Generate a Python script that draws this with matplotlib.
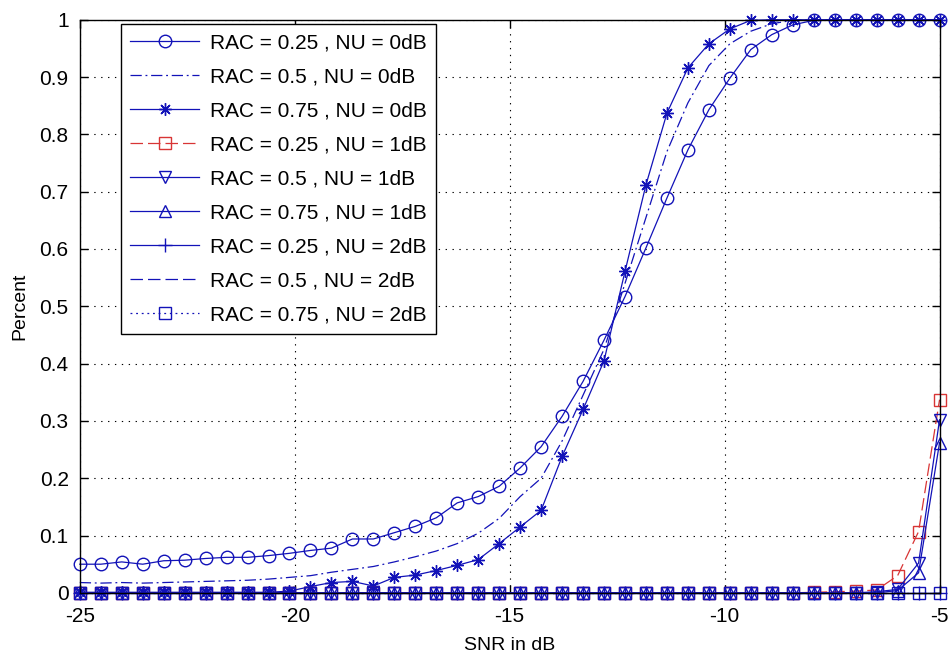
import numpy as np
import matplotlib
matplotlib.use("Agg")
import matplotlib.pyplot as plt
from matplotlib.ticker import FixedLocator, FuncFormatter

# detection rate vs SNR, 42 sweep points from -25 to -5 dB
snr_db = np.linspace(-25, -5, 42)

rac25_nu0 = [0.050, 0.050, 0.054, 0.050, 0.056, 0.057, 0.060, 0.062, 0.062, 0.065,
             0.069, 0.074, 0.078, 0.094, 0.094, 0.105, 0.116, 0.131, 0.157, 0.168,
             0.186, 0.218, 0.255, 0.308, 0.369, 0.441, 0.517, 0.602, 0.689, 0.773,
             0.843, 0.898, 0.948, 0.974, 0.991, 0.999, 1, 1, 1, 1,
             1, 1]
rac50_nu0 = [0.018, 0.017, 0.018, 0.017, 0.018, 0.019, 0.020, 0.021, 0.022, 0.024,
             0.027, 0.030, 0.036, 0.041, 0.046, 0.054, 0.063, 0.073, 0.086, 0.104,
             0.130, 0.168, 0.200, 0.265, 0.345, 0.425, 0.540, 0.655, 0.770, 0.855,
             0.920, 0.958, 0.980, 0.993, 0.999, 1, 1, 1, 1, 1,
             1, 1]
rac75_nu0 = [0.001, 0.001, 0.001, 0.001, 0.001, 0.001, 0.001, 0.001, 0.001, 0.001,
             0.003, 0.011, 0.018, 0.020, 0.012, 0.027, 0.031, 0.039, 0.048, 0.058,
             0.086, 0.115, 0.144, 0.238, 0.320, 0.405, 0.561, 0.712, 0.837, 0.916,
             0.958, 0.984, 0.999, 1, 1, 1, 1, 1, 1, 1,
             1, 1]
rac25_nu1 = [0] * 35 + [0.001, 0.002, 0.003, 0.005, 0.030, 0.107, 0.337]
rac50_nu1 = [0] * 38 + [0.002, 0.006, 0.052, 0.302]
rac75_nu1 = [0] * 39 + [0.004, 0.035, 0.262]
rac25_nu2 = [0] * 42
rac50_nu2 = [0] * 42
rac75_nu2 = [0] * 42

labels = ["RAC = 0.25 , NU = 0dB", "RAC = 0.5 , NU = 0dB", "RAC = 0.75 , NU = 0dB",
          "RAC = 0.25 , NU = 1dB", "RAC = 0.5 , NU = 1dB", "RAC = 0.75 , NU = 1dB",
          "RAC = 0.25 , NU = 2dB", "RAC = 0.5 , NU = 2dB", "RAC = 0.75 , NU = 2dB"]
x_ticks = [-25, -20, -15, -10, -5]
y_ticks = [0, 0.1, 0.2, 0.3, 0.4, 0.5, 0.6, 0.7, 0.8, 0.9, 1]

plt.rcParams['font.family'] = ['Liberation Sans', 'DejaVu Sans']
plt.rcParams['axes.unicode_minus'] = False

blue = '#1212b8'
red = '#d83535'
dashdot = (0, (9, 3, 1.5, 3))
dashed = (0, (10, 4))
dotted = (0, (1.5, 3))
asterisk = (8, 2, 0)

series = [
    (rac25_nu0, blue, '-', 'o', 9),
    (rac50_nu0, blue, dashdot, None, 0),
    (rac75_nu0, blue, '-', asterisk, 9),
    (rac25_nu1, red, dashed, 's', 9),
    (rac50_nu1, blue, '-', 'v', 9),
    (rac75_nu1, blue, '-', '^', 9),
    (rac25_nu2, blue, '-', '+', 10),
    (rac50_nu2, blue, dashed, None, 0),
    (rac75_nu2, blue, dotted, 's', 9),
]

fig = plt.figure(figsize=(9.5, 6.58), dpi=100)
ax = fig.add_axes([0.084, 0.099, 0.905, 0.871])

for (vals, color, ls, marker, ms), label in zip(series, labels):
    ax.plot(snr_db, vals, color=color, linestyle=ls, linewidth=0.9,
            marker=marker, markersize=ms, markerfacecolor='none',
            markeredgecolor=color, markeredgewidth=1.0, label=label,
            clip_on=False)

ax.set_xlim(-25, -5)
ax.set_ylim(0, 1)
ax.xaxis.set_major_locator(FixedLocator(x_ticks))
ax.yaxis.set_major_locator(FixedLocator(y_ticks))
ax.yaxis.set_major_formatter(FuncFormatter(lambda v, p: f"{v:g}"))
ax.tick_params(direction='in', length=6, width=1, top=True, right=True,
               labelsize=15)
ax.tick_params(axis='x', pad=10)
ax.tick_params(axis='y', pad=8)
ax.grid(True, color='black', linestyle=(0, (1.2, 5)), linewidth=0.8)
for s in ax.spines.values():
    s.set_linewidth(1.0)

ax.set_xlabel("SNR in dB", fontsize=14, labelpad=8)
ax.set_ylabel("Percent", fontsize=14, labelpad=8)

leg = ax.legend(loc='upper left', bbox_to_anchor=(0.048, 0.993), fontsize=15,
                handlelength=3.3, handletextpad=0.5, labelspacing=0.72,
                borderpad=0.45, fancybox=False, framealpha=1, edgecolor='black',
                borderaxespad=0)
leg.get_frame().set_linewidth(1.0)

fig.savefig("out.png", dpi=100)
